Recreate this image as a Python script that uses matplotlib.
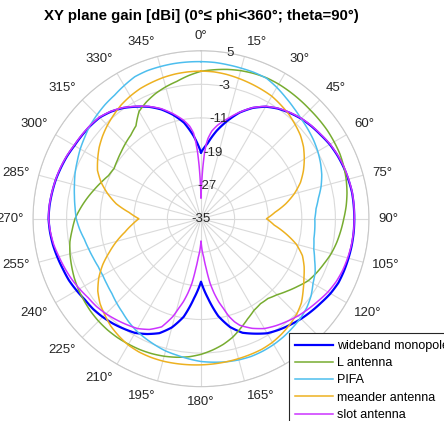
import numpy as np
import matplotlib
matplotlib.use("Agg")
import matplotlib.pyplot as plt

plt.rcParams['font.family'] = ['Liberation Sans', 'DejaVu Sans']

# azimuth sampling (deg) shared by most traces
phi = list(range(0, 360, 5))

wideband = [-19.2, -17.0, -13.8, -10.9, -8.1, -5.9, -4.2, -3.0, -2.1, -1.3,
            -0.7, -0.2, 0.4, 0.8, 1.1, 1.3, 1.5, 1.5, 1.5,
            1.5, 1.45, 1.35, 1.25, 1.1, 0.6, -0.1, -0.7, -1.3, -2.0,
            -2.7, -3.5, -4.8, -6.1, -8.3, -11.5, -16.0, -20.0,
            -16.0, -11.3, -8.2, -6.0, -4.7, -3.6, -3.0, -2.4, -1.9, -1.5,
            -1.3, -0.8, -0.3, 0.0, 0.4, 0.8, 1.1, 1.3,
            1.2, 1.0, 0.8, 0.5, 0.2, -0.2, -0.4, -0.6, -0.9, -1.7,
            -2.8, -4.2, -5.6, -7.3, -9.4, -11.8, -15.3]

l_antenna = [0.1, 0.6, 1.1, 1.5, 1.8, 2.0, 2.0, 1.9, 1.8, 1.7,
             1.7, 1.7, 1.6, 1.5, 1.2, 0.8, 0.3, -0.3, -1.0,
             -1.6, -2.2, -2.9, -3.8, -4.6, -5.5, -6.9, -8.2, -9.4, -10.2,
             -10.3, -9.8, -8.7, -7.3, -5.8, -4.6, -3.6, -2.7,
             -2.0, -1.5, -1.1, -0.8, -0.6, -0.5, -0.4, -0.4, -0.5, -0.7,
             -1.0, -1.3, -1.7, -2.2, -2.7, -3.3, -4.2, -5.0,
             -6.2, -7.4, -8.6, -9.7, -10.7, -11.1, -10.7, -10.2, -9.6, -9.0,
             -8.0, -5.5, -4.3, -3.3, -2.5, -1.8, -0.8]

pifa = [2.4, 2.35, 2.2, 2.1, 2.05, 1.9, 1.1, 0.2, -0.6, -1.3,
        -1.8, -2.3, -2.9, -3.6, -4.4, -5.4, -6.6, -7.5, -7.9,
        -7.8, -7.7, -7.2, -6.2, -5.0, -4.2, -3.0, -2.1, -1.5, -1.1,
        -0.7, -0.4, -0.2, -0.1, -0.2, -0.4, -0.7, -1.0,
        -1.5, -2.0, -2.4, -3.0, -3.6, -4.2, -5.0, -5.9, -6.6, -7.3,
        -7.7, -8.0, -8.0, -7.7, -7.3, -6.8, -6.0, -5.3,
        -4.9, -4.4, -3.8, -3.1, -2.5, -1.8, -1.2, -0.5, 0.0, 0.5,
        0.9, 1.6, 2.3, 2.5, 2.5, 2.5, 2.45]

meander = [0.15, 0.1, -0.1, -0.4, -0.7, -1.0, -1.3, -1.9, -2.5, -3.3,
           -4.1, -5.2, -6.6, -8.1, -9.8, -12.0, -14.5, -17.3, -19.4,
           -17.5, -14.5, -11.5, -9.3, -7.9, -6.7, -5.3, -3.8, -2.8, -2.1,
           -1.5, -1.0, -0.7, -0.6, -0.5, -0.4, -0.3, -0.2,
           -0.1, 0.0, 0.1, 0.1, 0.0, -0.3, -0.9, -1.6, -2.6, -3.6,
           -5.0, -6.9, -9.2, -11.8, -14.2, -16.6, -18.5, -20.2,
           -17.8, -14.5, -12.0, -9.7, -7.8, -6.6, -5.4, -4.4, -3.5, -2.7,
           -1.9, -1.3, -0.8, -0.5, -0.2, 0.0, 0.1]

# slot antenna has very narrow nulls, so it gets its own finer azimuth list
slot_phi = [0, 1, 2, 3, 4, 5, 7, 10, 15, 20, 25, 30, 35, 40, 45,
            50, 55, 60, 65, 70, 75, 80, 85, 90,
            95, 100, 105, 110, 115, 120, 125, 130, 135, 140, 145, 150, 155,
            160, 162, 164, 166, 168, 170, 172, 174, 176, 178, 180,
            182, 184, 186, 188, 190, 192, 194, 196, 198, 200,
            205, 210, 215, 220, 225, 230, 235, 240, 245, 250, 255, 260, 265, 270,
            275, 280, 285, 290, 295, 300, 305, 310, 315, 320, 325, 330, 335, 340,
            345, 350, 353, 355, 356, 357, 358, 359]
slot = [-30.0, -27.0, -23.0, -19.5, -17.2, -15.8, -14.0, -12.4, -10.3, -8.0, -5.8, -4.1, -2.9, -2.0, -1.2,
        -0.6, -0.1, 0.5, 0.9, 1.2, 1.4, 1.55, 1.55, 1.5,
        1.45, 1.35, 1.15, 0.9, 0.5, -0.1, -0.9, -1.6, -2.3, -3.1, -3.9, -4.8, -6.2,
        -8.0, -9.2, -10.8, -13.0, -14.8, -17.0, -19.5, -23.0, -25.8, -27.5, -29.7,
        -27.5, -25.8, -23.0, -19.5, -17.0, -14.8, -13.0, -10.8, -9.2, -7.6,
        -5.9, -4.8, -4.2, -3.6, -3.0, -2.5, -2.2, -1.6, -1.0, -0.5, 0.0, 0.6, 1.0, 1.3,
        1.25, 1.05, 0.85, 0.6, 0.3, -0.1, -0.3, -0.5, -0.8, -1.6, -2.7, -4.1, -5.5, -7.1,
        -9.1, -11.2, -12.8, -14.5, -16.5, -19.0, -22.5, -26.5]

series = [
    ("wideband monopole", phi, wideband, "#0000FF", 1.6),
    ("L antenna", phi, l_antenna, "#77AC30", 1.1),
    ("PIFA", phi, pifa, "#4DBEEE", 1.1),
    ("meander antenna", phi, meander, "#EDB120", 1.1),
    ("slot antenna", slot_phi, slot, "#CC33FF", 1.1),
]

r_ticks = [-35, -27, -19, -11, -3, 5]
theta_ticks = list(range(0, 360, 15))
r_min, r_max = -35, 5

fig = plt.figure(figsize=(4.44, 4.21), dpi=100)
ax = fig.add_axes([0.0743, 0.0815, 0.7568, 0.798], projection='polar')
ax.set_theta_zero_location('N')
ax.set_theta_direction(-1)
ax.set_rlim(r_min, r_max)

grid_col = '#DADADA'
ax.set_thetagrids(theta_ticks, labels=[''] * len(theta_ticks))
ax.set_rgrids(r_ticks[1:], labels=[''] * (len(r_ticks) - 1))
ax.grid(True, color=grid_col, linewidth=0.8)
ax.spines['polar'].set_color('#C8C8C8')
ax.spines['polar'].set_linewidth(0.8)
ax.tick_params(length=0)

handles = []
for name, ang, gain, col, lw in series:
    th = np.deg2rad(list(ang) + [360])
    rr = list(gain) + [gain[0]]
    ln, = ax.plot(th, rr, color=col, linewidth=lw, label=name)
    # draw each segment as a polar arc instead of a straight chord
    ln.get_path()._interpolation_steps = 8
    handles.append(ln)

# radial labels sit on each ring, a little clockwise of north
for r in r_ticks:
    ax.text(np.deg2rad(10), r, str(r), ha='center', va='center',
            fontsize=9.5, color='#262626', zorder=5)

# angle labels just outside the outer ring (177 px from the centre)
r_lab = r_min + 177 / 4.2
for t in theta_ticks:
    s, c = np.sin(np.deg2rad(t)), np.cos(np.deg2rad(t))
    ha = 'center' if abs(s) < 0.2 else ('left' if s > 0 else 'right')
    va = 'center' if abs(c) < 0.3 else ('bottom' if c > 0 else 'top')
    ax.text(np.deg2rad(t), r_lab, f'{t}°', ha=ha, va=va, fontsize=9.5,
            color='#262626', clip_on=False)

fig.text(201 / 444, 1 - 16 / 421,
         'XY plane gain [dBi] (0°≤ phi<360°; theta=90°)',
         ha='center', va='center', fontsize=10.8, fontweight='bold')

leg = fig.legend(handles=handles, loc='upper left',
                 bbox_to_anchor=(288.5 / 444, 1 - 333 / 421),
                 fontsize=9, frameon=True, fancybox=False, framealpha=1,
                 edgecolor='#262626', borderpad=0.55, labelspacing=0.42,
                 handlelength=3.0, handletextpad=0.3, borderaxespad=0)
leg.get_frame().set_linewidth(0.8)

fig.savefig('out.png', dpi=100)
